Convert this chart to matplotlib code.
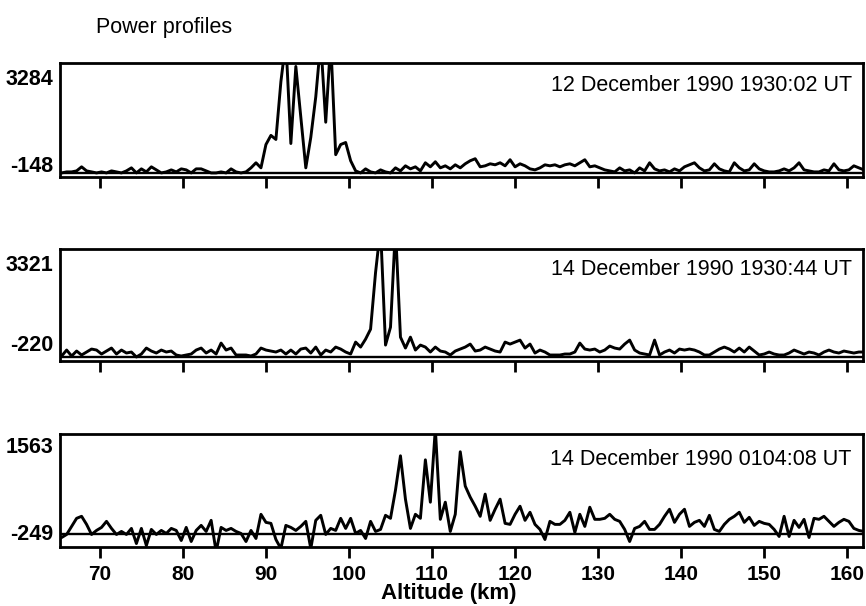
import numpy as np
import matplotlib
matplotlib.use("Agg")
import matplotlib.pyplot as plt

plt.rcParams['font.family'] = ['Liberation Sans', 'DejaVu Sans']

# altitude samples (km), 0.6 km gates
alt = 65.4 + 0.6 * np.arange(163)

xticks = [70, 80, 90, 100, 110, 120, 130, 140, 150, 160]

labels = ["12 December 1990 1930:02 UT",
          "14 December 1990 1930:44 UT",
          "14 December 1990 0104:08 UT"]

# min / max values printed on the left of each profile
y_marks = [(-148, 3284), (-220, 3321), (-249, 1563)]

# reference (noise) level drawn under each profile
noise_floor = [-500, -840, -300]

power_1 = [-500, -460, -460, -420, -260, -420, -460, -500, -460, -500,
           -420, -460, -500, -420, -300, -500, -340, -460, -260, -380,
           -500, -460, -380, -460, -340, -380, -500, -340, -340, -420,
           -500, -500, -460, -500, -340, -460, -500, -460, -300, -100,
           -300, 620, 980, 820, 3100, 4700, 660, 3700, 1700, -300,
           900, 2500, 4700, 1500, 4700, 220, 620, 700, -20, -420,
           -500, -340, -460, -500, -380, -460, -500, -300, -420, -220,
           -340, -260, -420, -100, -260, -60, -300, -220, -340, -180,
           -300, -140, -20, 60, -260, -220, -140, -180, -100, -220,
           20, -260, -140, -220, -340, -380, -300, -180, -220, -180,
           -260, -180, -140, -220, -100, 20, -260, -220, -300, -380,
           -420, -460, -300, -420, -380, -500, -300, -420, -100, -340,
           -420, -380, -460, -340, -420, -260, -180, -100, -300, -420,
           -380, -140, -340, -420, -460, -100, -300, -420, -380, -140,
           -340, -420, -460, -460, -420, -340, -420, -300, -100, -380,
           -420, -460, -460, -380, -420, -140, -380, -420, -380, -220,
           -300, -380, -420]

power_2 = [-796, -532, -796, -576, -752, -620, -488, -532, -708, -576,
           -444, -708, -532, -664, -620, -840, -708, -444, -576, -664,
           -532, -620, -576, -752, -796, -752, -708, -532, -444, -664,
           -532, -708, -224, -532, -444, -752, -752, -752, -796, -708,
           -444, -532, -576, -620, -532, -708, -532, -708, -488, -444,
           -664, -400, -752, -532, -620, -400, -488, -620, -708, -180,
           -400, -48, 392, 2900, 4880, -312, 480, 4880, 40, -444,
           40, -532, -312, -400, -620, -400, -576, -620, -752, -576,
           -488, -400, -268, -576, -532, -400, -488, -576, -620, -180,
           -268, -180, -92, -444, -268, -664, -532, -620, -752, -752,
           -752, -708, -708, -620, -224, -488, -532, -488, -620, -532,
           -356, -444, -488, -268, -92, -532, -664, -708, -752, -92,
           -752, -620, -532, -664, -488, -532, -488, -532, -620, -752,
           -752, -620, -488, -400, -488, -620, -444, -620, -400, -576,
           -752, -708, -620, -708, -752, -752, -664, -532, -620, -708,
           -620, -664, -752, -620, -532, -620, -664, -576, -620, -664,
           -620, -620, -664]

power_3 = [-363, -300, -132, 36, 78, -90, -300, -216, -153, -27,
           -174, -300, -237, -300, -174, -489, -174, -531, -195, -300,
           -216, -279, -174, -216, -426, -153, -447, -216, -111, -237,
           -6, -657, -153, -216, -174, -237, -279, -447, -216, -384,
           120, -48, -69, -405, -594, -111, -153, -216, -132, -27,
           -594, -6, 99, -300, -174, -216, 36, -174, 36, -279,
           -216, -384, -27, -237, -195, 99, 36, 624, 1338, 435,
           -174, 120, 36, 1254, 372, 1905, 15, 372, -237, 120,
           1422, 708, 477, 288, 78, 540, -6, 225, 435, -69,
           -90, 120, 288, -6, 162, -90, -195, -405, -27, -90,
           -90, -6, 162, -258, 120, -132, 267, 15, 15, 36,
           120, 15, -27, -195, -447, -174, -132, -27, -195, -195,
           -90, 78, 225, -48, 120, 225, -132, -48, -6, -132,
           99, -195, -237, -90, 15, 78, 162, -48, 57, -111,
           -27, -69, -90, -195, -342, 78, -342, -6, -153, 15,
           -363, 36, 15, 78, -27, -132, -48, 15, -27, -174,
           -216, -237, -90]

profiles = [power_1, power_2, power_3]

# layout in pixels of the 866x606 canvas
W, H = 866, 606
ax_left, ax_right = 60, 863
ax_rows = [(63, 177), (249, 361), (434, 547)]
ylims = [(-661, 3836), (-1017, 3941), (-561, 1792)]
label_y = [0.80, 0.82, 0.77]

fig = plt.figure(figsize=(W / 100, H / 100), dpi=100)

for k, (top, bottom) in enumerate(ax_rows):
    ax = fig.add_axes([ax_left / W, 1 - bottom / H,
                       (ax_right - ax_left) / W, (bottom - top) / H])
    ax.plot(alt, profiles[k], color='black', lw=2.1, solid_joinstyle='round')
    ax.axhline(noise_floor[k], color='black', lw=1.7)
    ax.set_xlim(65.2, 161.9)
    ax.set_ylim(*ylims[k])
    ax.set_xticks(xticks)
    ax.set_yticks(list(y_marks[k]))
    ax.set_yticklabels([str(v) for v in y_marks[k]], fontweight='bold')
    ax.tick_params(axis='y', length=0, pad=5, labelsize=15.5)
    ax.tick_params(axis='x', direction='out', length=8, width=2,
                   labelsize=15, pad=5)
    if k < 2:
        ax.tick_params(axis='x', labelbottom=False)
    else:
        for t in ax.get_xticklabels():
            t.set_fontweight('bold')
    for s in ax.spines.values():
        s.set_linewidth(2)
    ax.text(0.986, label_y[k], labels[k], transform=ax.transAxes,
            ha='right', va='center', fontsize=15.5)

fig.text(96 / W, 1 - 28 / H, "Power profiles", ha='left', va='center',
         fontsize=15.5)
fig.text(449 / W, 1 - 594 / H, "Altitude (km)", ha='center', va='center',
         fontsize=16, fontweight='bold')

fig.savefig("out.png", dpi=100)
